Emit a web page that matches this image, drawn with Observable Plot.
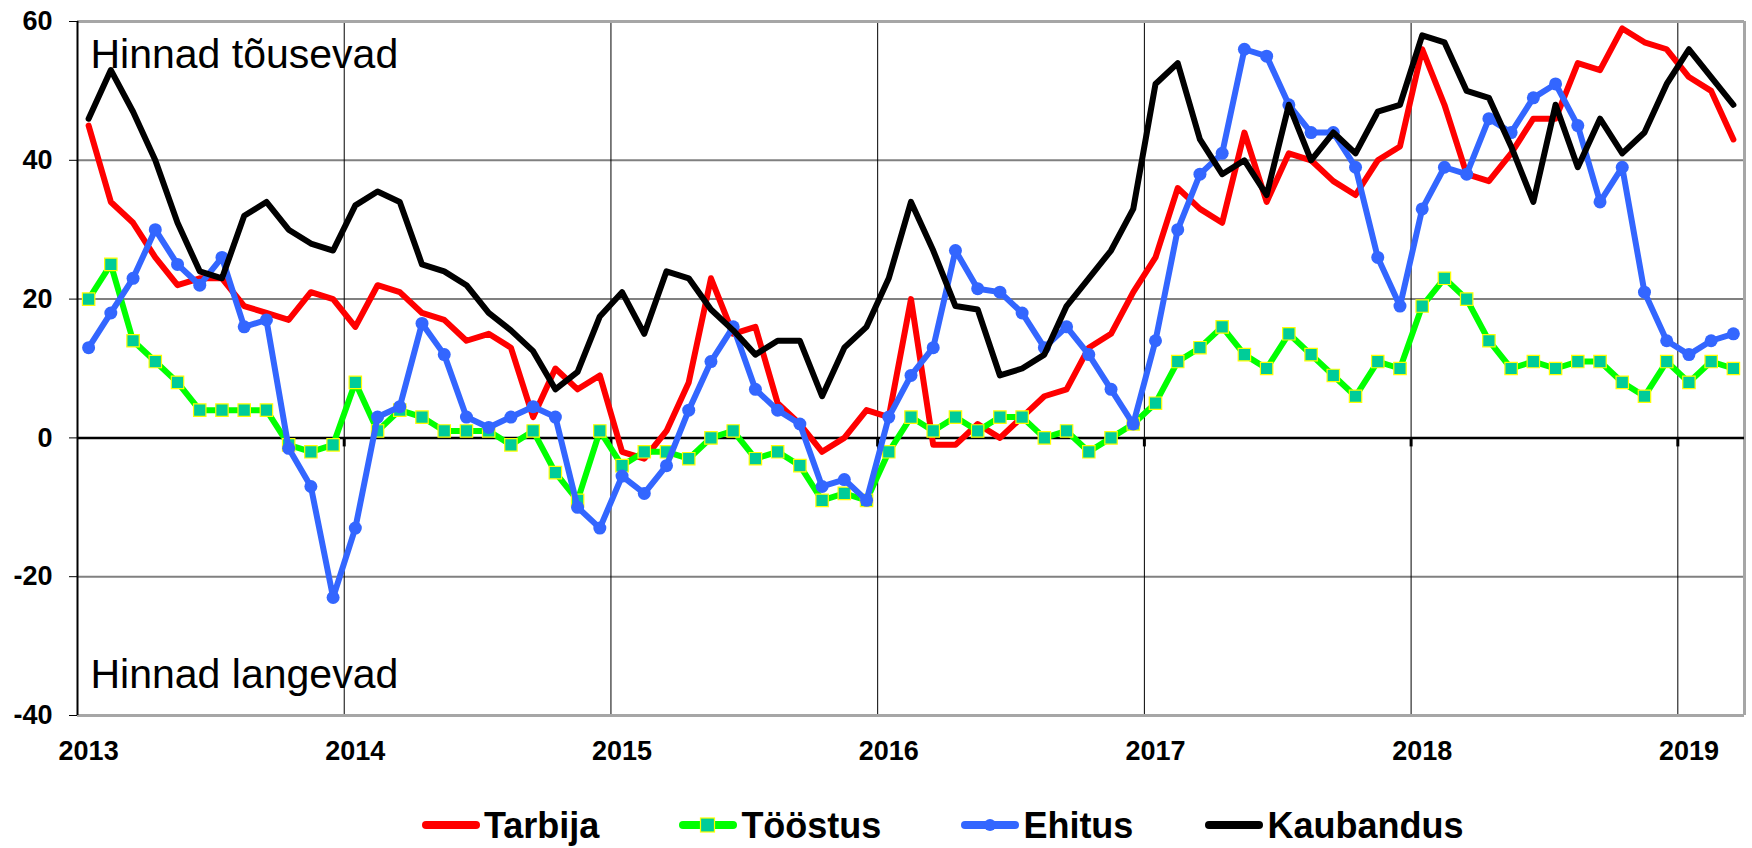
<!DOCTYPE html>
<html>
<head>
<meta charset="utf-8">
<script src="https://cdn.jsdelivr.net/npm/d3@7"></script>
<script src="https://cdn.jsdelivr.net/npm/@observablehq/plot@0.6"></script>
<style>
  html, body { margin: 0; padding: 0; background: #fff; }
  #wrap { width: 1752px; height: 848px; position: relative; overflow: hidden; font-family: "Liberation Sans", Arial, sans-serif; }
  #legend { position: relative; height: 58px; display: flex; align-items: flex-start; padding-left: 421px; }
  .item { display: flex; align-items: flex-start; height: 58px; }
  .item svg { display: block; margin-right: 3px; margin-top: 25px; }
  .item span { font-size: 36px; font-weight: bold; color: #000; line-height: 36px; margin-top: 18px; }
</style>
</head>
<body>
<div id="wrap"><div id="chart"></div><div id="legend"></div></div>
<script>
// ---- data (monthly, Jan 2013 – Mar 2019) ----
const yearLabels = ["2013", "2014", "2015", "2016", "2017", "2018", "2019"];
const seriesNames = ["Tarbija", "Tööstus", "Ehitus", "Kaubandus"];

const tarbija = [
  45, 34, 31, 26, 22, 23, 23, 19, 18, 17, 21, 20,
  16, 22, 21, 18, 17, 14, 15, 13, 3, 10, 7, 9,
  -2, -3, 1, 8, 23, 15, 16, 5, 2, -2, 0, 4,
  3, 20, -1, -1, 2, 0, 3, 6, 7, 13, 15, 21,
  26, 36, 33, 31, 44, 34, 41, 40, 37, 35, 40, 42,
  56, 48, 38, 37, 41, 46, 46, 54, 53, 59, 57, 56,
  52, 50, 43
];
const toostus = [
  20, 25, 14, 11, 8, 4, 4, 4, 4, -1, -2, -1,
  8, 1, 4, 3, 1, 1, 1, -1, 1, -5, -9, 1,
  -4, -2, -2, -3, 0, 1, -3, -2, -4, -9, -8, -9,
  -2, 3, 1, 3, 1, 3, 3, 0, 1, -2, 0, 2,
  5, 11, 13, 16, 12, 10, 15, 12, 9, 6, 11, 10,
  19, 23, 20, 14, 10, 11, 10, 11, 11, 8, 6, 11,
  8, 11, 10
];
const ehitus = [
  13, 18, 23, 30, 25, 22, 26, 16, 17, -1.5, -7, -23,
  -13, 3, 4.5, 16.5, 12, 3, 1.5, 3, 4.5, 3, -10, -13,
  -5.5, -8, -4, 4, 11, 16, 7, 4, 2, -7, -6, -9,
  3, 9, 13, 27, 21.5, 21, 18, 13, 16, 12, 7, 2,
  14, 30, 38, 41, 56, 55, 48, 44, 44, 39, 26, 19,
  33, 39, 38, 46, 44, 49, 51, 45, 34, 39, 21, 14,
  12, 14, 15
];
const kaubandus = [
  46, 53, 47, 40, 31, 24, 23, 32, 34, 30, 28, 27,
  33.5, 35.5, 34, 25, 24, 22, 18, 15.5, 12.5, 7, 9.5, 17.5,
  21, 15, 24, 23, 18.5, 15.5, 12, 14, 14, 6, 13, 16,
  23, 34, 27, 19, 18.5, 9, 10, 12, 19, 23, 27, 33,
  51, 54, 43, 38, 40, 35, 48, 40, 44, 41, 47, 48,
  58, 57, 50, 49, 42, 34, 48, 39, 46, 41, 44, 51,
  56, 52, 48
];
const yTicks = [-40, -20, 0, 20, 40, 60];
const annotTop = "Hinnad tõusevad";
const annotBottom = "Hinnad langevad";

// ---- helpers ----
const rows = (arr) => arr.map((v, i) => ({i, v}));
const nMonths = tarbija.length;
const yearStarts = yearLabels.map((_, k) => k * 12);          // January index of each year
const yearBounds = yearStarts.slice(1).map(d => d - 0.5);      // boundaries between Dec and Jan

const colors = {Tarbija: "#FF0000", "Tööstus": "#00FF00", Ehitus: "#3366FF", Kaubandus: "#000000"};
const lw = 6;

const chart = Plot.plot({
  width: 1752,
  height: 790,
  marginLeft: 77,
  marginRight: 8,
  marginTop: 21,
  marginBottom: 75,
  style: {
    fontFamily: "'Liberation Sans', Arial, sans-serif",
    fontSize: "27px",
    fontWeight: "bold",
    color: "#000",
    background: "#fff",
    overflow: "visible"
  },
  x: {
    domain: [-0.5, nMonths - 0.5],
    ticks: yearStarts,
    tickFormat: d => yearLabels[Math.round(d / 12)],
    tickSize: 0,
    tickPadding: 25,
    label: null
  },
  y: {
    domain: [-40, 60],
    ticks: yTicks,
    tickFormat: d => String(d),
    tickSize: 8,
    tickPadding: 17,
    label: null
  },
  marks: [
    Plot.ruleY(yTicks.filter(d => d !== 0 && d !== -40 && d !== 60), {stroke: "#808080", strokeWidth: 2}),
    Plot.ruleX(yearBounds, {stroke: "#000", strokeWidth: 1}),
    Plot.ruleY([60, -40], {stroke: "#a6a6a6", strokeWidth: 3}),
    Plot.ruleX([nMonths - 0.5], {stroke: "#a6a6a6", strokeWidth: 3}),
    Plot.ruleX([-0.5], {stroke: "#000", strokeWidth: 2}),
    Plot.ruleY([0], {stroke: "#000", strokeWidth: 2.5}),
    Plot.ruleX(yearBounds, {y1: 0, y2: -1.3, stroke: "#000", strokeWidth: 3}),

    Plot.line(rows(tarbija), {x: "i", y: "v", stroke: colors.Tarbija, strokeWidth: lw, strokeLinejoin: "round", strokeLinecap: "round"}),
    Plot.line(rows(toostus), {x: "i", y: "v", stroke: colors["Tööstus"], strokeWidth: lw, strokeLinejoin: "round", strokeLinecap: "round"}),
    Plot.dot(rows(toostus), {x: "i", y: "v", symbol: "square", r: 7, fill: "#00CC99", stroke: "#FFFF00", strokeWidth: 1.2}),
    Plot.line(rows(ehitus), {x: "i", y: "v", stroke: colors.Ehitus, strokeWidth: lw, strokeLinejoin: "round", strokeLinecap: "round"}),
    Plot.dot(rows(ehitus), {x: "i", y: "v", r: 6.5, fill: colors.Ehitus}),
    Plot.line(rows(kaubandus), {x: "i", y: "v", stroke: colors.Kaubandus, strokeWidth: lw, strokeLinejoin: "round", strokeLinecap: "round"}),

    Plot.text([annotTop], {frameAnchor: "top-left", text: d => d, dx: 13, dy: 17, lineAnchor: "top", textAnchor: "start", fontSize: 41, fontWeight: "normal", fill: "#000"}),
    Plot.text([annotBottom], {frameAnchor: "bottom-left", text: d => d, dx: 13, dy: -57, lineAnchor: "top", textAnchor: "start", fontSize: 41, fontWeight: "normal", fill: "#000"})
  ]
});
document.getElementById("chart").appendChild(chart);

// ---- legend ----
const legend = document.getElementById("legend");
const gaps = [79, 79, 71, 0];
seriesNames.forEach((name, k) => {
  const item = document.createElement("div");
  item.className = "item";
  item.style.marginRight = gaps[k] + "px";
  const ns = "http://www.w3.org/2000/svg";
  const svg = document.createElementNS(ns, "svg");
  svg.setAttribute("width", 60);
  svg.setAttribute("height", 20);
  const line = document.createElementNS(ns, "line");
  line.setAttribute("x1", 5); line.setAttribute("x2", 55);
  line.setAttribute("y1", 10); line.setAttribute("y2", 10);
  line.setAttribute("stroke", colors[name]);
  line.setAttribute("stroke-width", 8);
  line.setAttribute("stroke-linecap", "round");
  svg.appendChild(line);
  if (name === "Tööstus") {
    const r = document.createElementNS(ns, "rect");
    r.setAttribute("x", 22.5); r.setAttribute("y", 3); r.setAttribute("width", 14); r.setAttribute("height", 14);
    r.setAttribute("fill", "#00CC99"); r.setAttribute("stroke", "#FFFF00"); r.setAttribute("stroke-width", 1.2);
    svg.appendChild(r);
  }
  if (name === "Ehitus") {
    const c = document.createElementNS(ns, "circle");
    c.setAttribute("cx", 30); c.setAttribute("cy", 10); c.setAttribute("r", 6);
    c.setAttribute("fill", colors.Ehitus);
    svg.appendChild(c);
  }
  item.appendChild(svg);
  const span = document.createElement("span");
  span.textContent = name;
  item.appendChild(span);
  legend.appendChild(item);
});
</script>
</body>
</html>
